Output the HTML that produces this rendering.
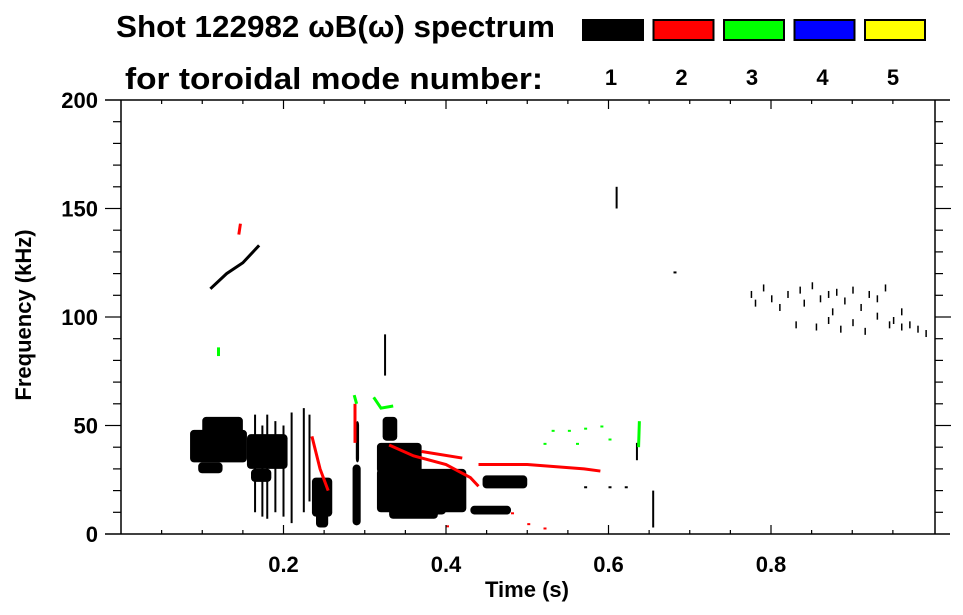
<!DOCTYPE html>
<html><head><meta charset="utf-8"><style>
body{margin:0;background:#fff;}
svg{display:block;font-family:"Liberation Sans",Arial,sans-serif;font-weight:bold;}
</style></head><body>
<svg id="chart" width="963" height="615" viewBox="0 0 963 615" xmlns="http://www.w3.org/2000/svg">
<text x="116" y="37" font-size="31" textLength="439" lengthAdjust="spacingAndGlyphs">Shot 122982 ωB(ω) spectrum</text>
<text x="125" y="89" font-size="31" textLength="418" lengthAdjust="spacingAndGlyphs">for toroidal mode number:</text>
<g id="legend"></g>
<g id="marks"></g>
<g id="axes"></g>
<text x="527" y="597" font-size="22" text-anchor="middle">Time (s)</text>
<text transform="translate(31,315) rotate(-90)" font-size="22" text-anchor="middle">Frequency (kHz)</text>
</svg>
<script>
const modeLabels=["1","2","3","4","5"];
const modeColors=["#000000","#ff0000","#00ff00","#0000ff","#ffff00"];
const xTicks=[0.2,0.4,0.6,0.8];
const yTicks=[0,50,100,150,200];
// blobs: time range (s), frequency range (kHz), mode index
const blobT0=[.085,.10,.095,.155,.16,.235,.24,.285,.289,.315,.315,.33,.322,.445,.43,.36,.40];
const blobT1=[.155,.15,.125,.205,.185,.26,.255,.295,.293,.425,.37,.39,.34,.50,.48,.40,.42];
const blobF0=[33,44,28,30,24,8,3,4,33,10,28,7,43,21,9,9,11];
const blobF1=[48,54,33,46,30,26,10,32,52,30,42,12,54,27,13,27,23];
const blobMode=[0,0,0,0,0,0,0,0,0,0,0,0,0,0,0,0,0];
// vertical streaks
const lineT=[.165,.174,.180,.19,.20,.21,.225,.232,.635,.325,.655,.61];
const lineF0=[10,8,7,10,8,5,10,15,34,73,3,150];
const lineF1=[55,50,55,52,50,56,58,55,42,92,20,160];
const lineMode=[0,0,0,0,0,0,0,0,0,0,0,0];
// tracks
const trackT=[[.11,.13,.15,.17],[.33,.36,.40,.43,.44],[.37,.42],[.44,.50,.57,.59],[.235,.245,.255],[.288,.288],[.145,.147],[.311,.32,.335],[.287,.290],[.637,.638],[.12,.12]];
const trackF=[[113,120,125,133],[41,36,32,26,22],[38,35],[32,32,30,29],[45,30,20],[42,60],[138,143],[63,58,59],[64,60],[40,52],[82,86]];
const trackMode=[0,1,1,1,1,1,1,2,2,2,2];
// speckle band near 100-118 kHz
const speckT=[.775,.78,.79,.80,.81,.82,.835,.84,.85,.86,.87,.875,.88,.89,.90,.91,.92,.93,.94,.95,.96,.97,.98,.99,.83,.855,.87,.885,.9,.915,.93,.945,.96];
const speckF=[112,108,115,110,106,112,114,108,116,110,112,104,113,109,114,106,112,110,115,100,104,98,96,94,98,97,100,96,99,95,102,98,97];
// misc dots
const dotT=[.53,.55,.57,.59,.52,.56,.60,.48,.50,.52,.57,.60,.62,.40,.68];
const dotF=[48,48,49,50,42,42,44,10,5,3,22,22,22,4,121];
const dotMode=[2,2,2,2,2,2,2,1,1,1,0,0,0,1,0];

const NS="http://www.w3.org/2000/svg";
const X=t=>121+t*812.5, Y=f=>534-f*2.17;
function mk(tag,a,p){const e=document.createElementNS(NS,tag);for(const k in a)e.setAttribute(k,a[k]);p.appendChild(e);return e;}
const marks=document.getElementById('marks'),axes=document.getElementById('axes'),leg=document.getElementById('legend');
blobT0.forEach((t0,i)=>{const r=mk('rect',{x:X(t0),y:Y(blobF1[i]),width:X(blobT1[i])-X(t0),height:Y(blobF0[i])-Y(blobF1[i]),fill:modeColors[blobMode[i]],rx:4}, marks);

});
lineT.forEach((t,i)=>{const l=mk('line',{x1:X(t),x2:X(t),y1:Y(lineF0[i]),y2:Y(lineF1[i]),stroke:modeColors[lineMode[i]],'stroke-width':2},marks);

});
trackT.forEach((ts,i)=>{const pts=ts.map((t,j)=>X(t)+','+Y(trackF[i][j])).join(' ');
const p=mk('polyline',{points:pts,fill:'none',stroke:modeColors[trackMode[i]],'stroke-width':3},marks);

});
speckT.forEach((t,i)=>{const r=mk('rect',{x:X(t),y:Y(speckF[i]),width:1.5,height:7,fill:'#000'},marks);

});
dotT.forEach((t,i)=>{const r=mk('rect',{x:X(t),y:Y(dotF[i]),width:3,height:2,fill:modeColors[dotMode[i]]},marks);

});
// axes
[[105,100,950,100],[105,534,950,534],[121,100,121,534],[935,100,935,534]].forEach(a=>{const l=mk('line',{x1:a[0],y1:a[1],x2:a[2],y2:a[3],stroke:'#000','stroke-width':1.5},axes);

});
for(let k=1;k<20;k++){const t=k*0.05,maj=k%4===0,len=maj?9:4;
mk('line',{x1:X(t),x2:X(t),y1:100,y2:100+len,stroke:'#000','stroke-width':1.2},axes);
mk('line',{x1:X(t),x2:X(t),y1:534,y2:534-len,stroke:'#000','stroke-width':1.2},axes);}
for(let f=10;f<200;f+=10){const maj=f%50===0,len=maj?16:8;
mk('line',{x1:121-len,x2:121,y1:Y(f),y2:Y(f),stroke:'#000','stroke-width':1.2},axes);
mk('line',{x1:935,x2:935+len,y1:Y(f),y2:Y(f),stroke:'#000','stroke-width':1.2},axes);}
xTicks.forEach(t=>{const e=mk('text',{x:X(t),y:572,'font-size':22,'text-anchor':'middle'},axes);e.textContent=String(t);

});
yTicks.forEach(f=>{const e=mk('text',{x:98,y:Y(f)+8,'font-size':22,'text-anchor':'end'},axes);e.textContent=String(f);

});
modeLabels.forEach((m,i)=>{const x=583+i*70.5;
const r=mk('rect',{x:x,y:20,width:60,height:20,fill:modeColors[i],stroke:'#000','stroke-width':2},leg);


const t=mk('text',{x:x+28,y:85,'font-size':22,'text-anchor':'middle'},leg);t.textContent=m;

});
</script>
</body></html>
